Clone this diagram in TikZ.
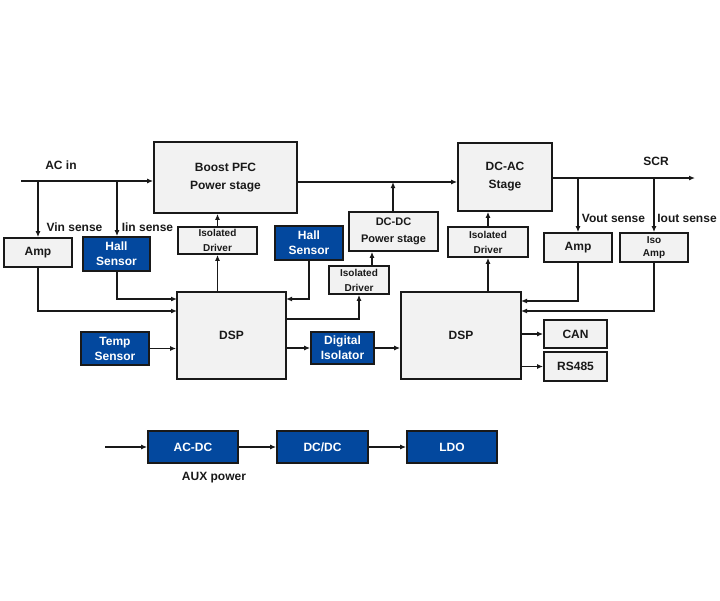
\documentclass[tikz,border=0pt]{standalone}
\usepackage{fontspec}
\setmainfont{Liberation Sans}
\usetikzlibrary{arrows.meta}
\definecolor{boxgray}{RGB}{242,242,242}
\definecolor{boxblue}{RGB}{3,72,158}
\definecolor{ink}{RGB}{25,25,25}
\tikzset{
  gbox/.style={draw=ink, line width=1.7pt, fill=boxgray, text=ink, align=center, inner sep=0pt, font=\bfseries\fontsize{12}{15}\selectfont},
  bbox/.style={draw=ink, line width=1.7pt, fill=boxblue, text=white, align=center, inner sep=0pt, font=\bfseries\fontsize{12}{15}\selectfont},
  wire/.style={draw=ink, line width=1.5pt},
  arr/.style={wire, -{Latex[length=6pt,width=5pt]}},
  lbl/.style={text=ink, font=\bfseries\fontsize{12}{14}\selectfont, inner sep=0pt}
}
\begin{document}
\begin{tikzpicture}[x=1pt,y=-1pt]
\useasboundingbox (0,0) rectangle (720,600);
% main boxes
\node[gbox, minimum width=143pt, minimum height=71pt, font=\bfseries\fontsize{12}{18}\selectfont] (pfc) at (225.5,177.5) {Boost PFC\\Power stage};
\node[gbox, minimum width=94pt, minimum height=68pt, font=\bfseries\fontsize{12}{18}\selectfont] (dcac) at (505,177) {DC-AC\\Stage};
\node[gbox, minimum width=68pt, minimum height=29pt] (amp1) at (38,252.5) {Amp};
\node[bbox, minimum width=67pt, minimum height=34pt] (hall1) at (116.5,254) {Hall\\Sensor};
\node[gbox, minimum width=79pt, minimum height=27pt, font=\bfseries\fontsize{10}{15}\selectfont] (drv1) at (217.5,240.5) {Isolated\\Driver};
\node[bbox, minimum width=68pt, minimum height=34pt] (hall2) at (309,243) {Hall\\Sensor};
\node[gbox, minimum width=89pt, minimum height=39pt, font=\bfseries\fontsize{11}{17}\selectfont] (dcdc) at (393.5,231.5) {DC-DC\\Power stage};
\node[gbox, minimum width=60pt, minimum height=28pt, font=\bfseries\fontsize{10}{15}\selectfont] (drv2) at (359,280) {Isolated\\Driver};
\node[gbox, minimum width=80pt, minimum height=30pt, font=\bfseries\fontsize{10}{15}\selectfont] (drv3) at (488,242) {Isolated\\Driver};
\node[gbox, minimum width=68pt, minimum height=29pt] (amp2) at (578,247.5) {Amp};
\node[gbox, minimum width=68pt, minimum height=29pt, font=\bfseries\fontsize{10}{13}\selectfont] (isoamp) at (654,247.5) {Iso\\Amp};
\node[gbox, minimum width=109pt, minimum height=87pt] (dsp1) at (231.5,335.5) {DSP};
\node[gbox, minimum width=120pt, minimum height=87pt] (dsp2) at (461,335.5) {DSP};
\node[bbox, minimum width=68pt, minimum height=33pt] (temp) at (115,348.5) {Temp\\Sensor};
\node[bbox, minimum width=63pt, minimum height=32pt] (diso) at (342.5,348) {Digital\\Isolator};
\node[gbox, minimum width=63pt, minimum height=28pt] (can) at (575.5,334) {CAN};
\node[gbox, minimum width=63pt, minimum height=29pt] (rs) at (575.5,366.5) {RS485};
% aux power
\node[bbox, minimum width=90pt, minimum height=32pt] (acdc) at (193,447) {AC-DC};
\node[bbox, minimum width=91pt, minimum height=32pt] (dcdc2) at (322.5,447) {DC/DC};
\node[bbox, minimum width=90pt, minimum height=32pt] (ldo) at (452,447) {LDO};
% labels
\node[lbl] (lacin) at (61,165) {AC in};
\node[lbl] (lvin) at (74.5,227) {Vin sense};
\node[lbl] (liin) at (147.5,227) {Iin sense};
\node[lbl] (lscr) at (656,161) {SCR};
\node[lbl] (lvout) at (613.5,218) {Vout sense};
\node[lbl] (liout) at (687,218) {Iout sense};
\node[lbl] (laux) at (214,478) {AUX power};
% coordinates
\coordinate (acin) at (21,181);
\coordinate (vb) at (38,181);
\coordinate (ib) at (117,181);
\coordinate (busl) at (297,182);
\coordinate (busj) at (393,182);
\coordinate (scrend) at (695,178);
\coordinate (vob) at (578,178);
\coordinate (iob) at (654,178);
\coordinate (h1d) at (177,299);
\coordinate (a1d) at (177,311);
\coordinate (h2d) at (286,299);
\coordinate (d1o) at (286,319);
\coordinate (d2drv) at (372,266);
\coordinate (a2d) at (521,301);
\coordinate (iad) at (521,311);
\coordinate (auxin) at (105,447);
% input side
\draw[arr] (acin) -- (acin -| pfc.west);
\draw[arr] (vb) -- (amp1.north);
\draw[arr] (ib) -- (ib |- hall1.north);
\draw[arr] (amp1.south) |- (a1d);
\draw[arr] (hall1.south -| ib) |- (h1d);
\draw[arr] (drv1.north) -- (drv1.north |- pfc.south);
\draw[arr] (dsp1.north -| drv1) -- (drv1.south);
\draw[arr] (hall2.south) |- (h2d);
\draw[arr] (temp.east) -- (temp.east -| dsp1.west);
\draw[arr] (d1o) -| (drv2.south);
\draw[arr] (d2drv) -- (d2drv |- dcdc.south);
\draw[arr] (dcdc.north -| busj) -- (busj);
\draw[arr] (busl) -- (busl -| dcac.west);
% output side
\draw[arr] (dcac.east |- scrend) -- (scrend);
\draw[arr] (vob) -- (amp2.north);
\draw[arr] (iob) -- (isoamp.north);
\draw[arr] (amp2.south) |- (a2d);
\draw[arr] (isoamp.south) |- (iad);
\draw[arr] (drv3.north) -- (drv3.north |- dcac.south);
\draw[arr] (dsp2.north -| drv3) -- (drv3.south);
\draw[arr] (dsp1.east |- diso) -- (diso.west);
\draw[arr] (diso.east) -- (diso.east -| dsp2.west);
\draw[arr] (dsp2.east |- can) -- (can.west);
\draw[arr] (dsp2.east |- rs) -- (rs.west);
% aux
\draw[arr] (auxin) -- (acdc.west);
\draw[arr] (acdc.east) -- (dcdc2.west);
\draw[arr] (dcdc2.east) -- (ldo.west);
\end{tikzpicture}
\end{document}
